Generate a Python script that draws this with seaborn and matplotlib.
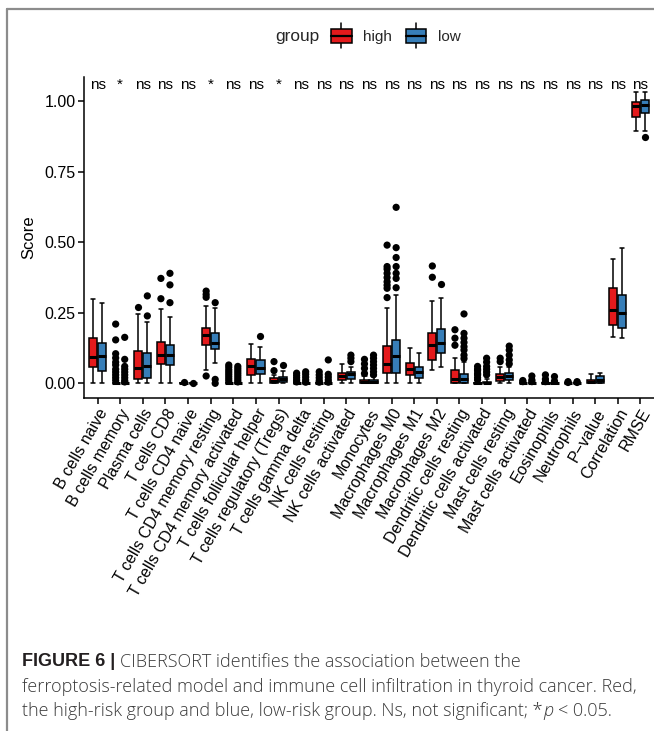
import numpy as np
import pandas as pd
import matplotlib
matplotlib.use("Agg")
import matplotlib.pyplot as plt
import seaborn as sns
from matplotlib.patches import Rectangle, Patch
from matplotlib.lines import Line2D
from matplotlib.legend_handler import HandlerBase

# ---------------- data ----------------
categories = [
    "B cells naive", "B cells memory", "Plasma cells", "T cells CD8",
    "T cells CD4 naive", "T cells CD4 memory resting",
    "T cells CD4 memory activated", "T cells follicular helper",
    "T cells regulatory (Tregs)", "T cells gamma delta", "NK cells resting",
    "NK cells activated", "Monocytes", "Macrophages M0", "Macrophages M1",
    "Macrophages M2", "Dendritic cells resting", "Dendritic cells activated",
    "Mast cells resting", "Mast cells activated", "Eosinophils",
    "Neutrophils", "P\u2212value", "Correlation", "RMSE",
]
groups = ["high", "low"]

# five-number summaries: lower whisker, Q1, median, Q3, upper whisker
high_box = [
    (0.0, 0.057, 0.095, 0.160, 0.298),
    (0.0, 0.0, 0.0, 0.002, 0.004),
    (0.0, 0.017, 0.053, 0.116, 0.246),
    (0.002, 0.069, 0.100, 0.148, 0.262),
    (0.0, 0.0, 0.0, 0.0, 0.001),
    (0.047, 0.136, 0.171, 0.195, 0.274),
    (0.0, 0.0, 0.0, 0.002, 0.004),
    (0.0, 0.028, 0.061, 0.087, 0.140),
    (0.0, 0.002, 0.010, 0.018, 0.030),
    (0.0, 0.0, 0.0, 0.0, 0.002),
    (0.0, 0.0, 0.0, 0.0, 0.002),
    (0.0, 0.012, 0.026, 0.038, 0.069),
    (0.0, 0.001, 0.006, 0.012, 0.025),
    (0.0, 0.038, 0.069, 0.132, 0.266),
    (0.0, 0.030, 0.050, 0.071, 0.124),
    (0.047, 0.083, 0.136, 0.180, 0.293),
    (0.0, 0.001, 0.014, 0.047, 0.090),
    (0.0, 0.0, 0.0, 0.001, 0.002),
    (0.0, 0.009, 0.024, 0.033, 0.059),
    (0.0, 0.0, 0.0, 0.0, 0.001),
    (0.0, 0.0, 0.0, 0.0, 0.001),
    (0.0, 0.0, 0.0, 0.0, 0.001),
    (0.0, 0.0, 0.005, 0.012, 0.033),
    (0.165, 0.207, 0.260, 0.337, 0.440),
    (0.896, 0.943, 0.983, 0.999, 1.034),
]
low_box = [
    (0.0, 0.045, 0.097, 0.142, 0.284),
    (0.0, 0.0, 0.0, 0.002, 0.004),
    (0.0, 0.018, 0.061, 0.106, 0.219),
    (0.0, 0.065, 0.100, 0.136, 0.234),
    (0.0, 0.0, 0.0, 0.0, 0.001),
    (0.073, 0.120, 0.144, 0.180, 0.266),
    (0.0, 0.0, 0.0, 0.002, 0.004),
    (0.0, 0.033, 0.053, 0.083, 0.130),
    (0.0, 0.004, 0.014, 0.022, 0.045),
    (0.0, 0.0, 0.0, 0.0, 0.002),
    (0.0, 0.0, 0.0, 0.0, 0.002),
    (0.0, 0.014, 0.033, 0.041, 0.059),
    (0.0, 0.001, 0.005, 0.012, 0.025),
    (0.0, 0.035, 0.097, 0.154, 0.313),
    (0.0, 0.018, 0.041, 0.059, 0.109),
    (0.057, 0.106, 0.142, 0.191, 0.301),
    (0.0, 0.0, 0.014, 0.033, 0.077),
    (0.0, 0.0, 0.001, 0.006, 0.014),
    (0.0, 0.012, 0.026, 0.035, 0.059),
    (0.0, 0.0, 0.0, 0.0, 0.001),
    (0.0, 0.0, 0.0, 0.0, 0.001),
    (0.0, 0.0, 0.0, 0.0, 0.001),
    (0.0, 0.0, 0.012, 0.026, 0.035),
    (0.162, 0.195, 0.248, 0.312, 0.481),
    (0.896, 0.957, 0.987, 1.005, 1.034),
]
high_outliers = [
    [],
    [0.21, 0.154, 0.105, 0.09, 0.075, 0.065, 0.05, 0.04, 0.03, 0.02, 0.01],
    [0.272],
    [0.372, 0.30],
    [0.003],
    [0.327, 0.315, 0.305, 0.026],
    [0.065, 0.057, 0.048, 0.04, 0.032, 0.024, 0.016, 0.008],
    [],
    [0.077, 0.045],
    [0.036, 0.028, 0.02, 0.012, 0.005],
    [0.041, 0.03, 0.02, 0.01, 0.004],
    [],
    [0.085, 0.069, 0.053, 0.035],
    [0.49, 0.414, 0.405, 0.39, 0.375, 0.36, 0.348, 0.337, 0.304],
    [],
    [0.416, 0.376],
    [0.19, 0.16, 0.135],
    [0.06, 0.05, 0.045, 0.035, 0.03, 0.02, 0.012],
    [0.089, 0.077],
    [0.01, 0.006],
    [0.03, 0.015, 0.006],
    [0.006, 0.003],
    [],
    [],
    [],
]
low_outliers = [
    [],
    [0.163, 0.085, 0.06, 0.05, 0.04, 0.03, 0.02, 0.01, 0.005],
    [0.31, 0.239],
    [0.39, 0.349, 0.286],
    [0.002],
    [0.286, 0.014, 0.0],
    [0.06, 0.052, 0.044, 0.036, 0.028, 0.02, 0.012, 0.005],
    [0.168],
    [0.065],
    [0.041, 0.032, 0.022, 0.012, 0.004],
    [0.083, 0.032, 0.022, 0.012, 0.004],
    [0.1, 0.089, 0.077],
    [0.1, 0.089, 0.077, 0.065, 0.053, 0.041, 0.03],
    [0.624, 0.481, 0.446, 0.414, 0.39, 0.372, 0.339],
    [],
    [0.352],
    [0.246, 0.177, 0.16, 0.145, 0.13, 0.118, 0.1, 0.088],
    [0.089, 0.075, 0.06, 0.05, 0.04, 0.03],
    [0.132, 0.118, 0.1, 0.083, 0.069],
    [0.026, 0.012, 0.006],
    [0.024, 0.008],
    [0.006, 0.003],
    [],
    [],
    [0.875],
]
sig_labels = ["ns", "*", "ns", "ns", "ns", "*", "ns", "ns", "*"] + ["ns"] * 16
y_ticks = [0.0, 0.25, 0.50, 0.75, 1.00]
palette = {"high": "#E41A1C", "low": "#377EB8"}

caption_bold = "FIGURE 6 |"
caption_line1 = "CIBERSORT identifies the association between the"
caption_line2 = "ferroptosis-related model and immune cell infiltration in thyroid cancer. Red,"
caption_line3a = "the high-risk group and blue, low-risk group. Ns, not significant; *"
caption_line3b = "p"
caption_line3c = "< 0.05."

# ---------------- tables ----------------
box_rows = []
for cat, hb, lb in zip(categories, high_box, low_box):
    for v in hb:
        box_rows.append((cat, "high", v))
    for v in lb:
        box_rows.append((cat, "low", v))
box_df = pd.DataFrame(box_rows, columns=["cell", "group", "score"])

out_rows = []
for cat, ho, lo in zip(categories, high_outliers, low_outliers):
    for v in ho:
        out_rows.append((cat, "high", v))
    for v in lo:
        out_rows.append((cat, "low", v))
out_df = pd.DataFrame(out_rows, columns=["cell", "group", "score"])

# ---------------- style ----------------
sns.set_style("ticks")
plt.rcParams["font.family"] = ["Liberation Sans", "DejaVu Sans"]
plt.rcParams["axes.linewidth"] = 1.1

W, H = 654, 731
fig = plt.figure(figsize=(W / 100, H / 100), dpi=100)
fig.patch.set_facecolor("white")
ax = fig.add_axes([84 / W, 1 - 398 / H, (W - 84) / W, (398 - 77) / H])

sns.boxplot(
    data=box_df, x="cell", y="score", hue="group", order=categories,
    hue_order=groups, palette=palette, saturation=1, whis=(0, 100),
    showfliers=False, width=0.8, gap=0.1, linecolor="black", linewidth=1.1,
    medianprops={"linewidth": 2.2, "color": "black"}, legend=False, ax=ax,
)
sns.stripplot(
    data=out_df, x="cell", y="score", hue="group", order=categories,
    hue_order=groups, palette={"high": "black", "low": "black"}, dodge=True,
    jitter=False, size=5.2, linewidth=0, legend=False, ax=ax,
)

ax.set_xlim(-0.6, len(categories) - 0.4)
ax.set_ylim(-0.052, 1.086)
ax.set_yticks(y_ticks)
ax.set_yticklabels([f"{t:.2f}" for t in y_ticks], fontsize=11.5, color="black")
ax.set_xticks(range(len(categories)))
ax.set_xticklabels(categories, rotation=60, ha="right", va="top",
                   rotation_mode="anchor", fontsize=11.5, color="black")
ax.tick_params(axis="both", length=4, width=1.1, color="black", pad=2)
ax.set_xlabel("")
ax.set_ylabel("Score", fontsize=12, color="black", labelpad=6)
for s in ["top", "right"]:
    ax.spines[s].set_visible(False)
for s in ["left", "bottom"]:
    ax.spines[s].set_color("black")

for i, s in enumerate(sig_labels):
    ax.text(i, 1.058, s, ha="center", va="center", fontsize=11, color="black")


# ---------------- legend ----------------
class BoxHandler(HandlerBase):
    def create_artists(self, legend, orig, xd, yd, w, h, fs, trans):
        cy = -yd + h / 2
        cx = -xd + w / 2
        bh = h * 1.25
        rect = Rectangle((-xd, cy - bh / 2), w, bh, facecolor=orig.get_facecolor(),
                         edgecolor="black", lw=1.1, transform=trans)
        med = Line2D([-xd, -xd + w], [cy, cy], color="black", lw=1.6, transform=trans)
        w1 = Line2D([cx, cx], [cy + bh / 2, cy + h * 1.1], color="black", lw=1.1, transform=trans)
        w2 = Line2D([cx, cx], [cy - bh / 2, cy - h * 1.1], color="black", lw=1.1, transform=trans)
        return [w1, w2, rect, med]


handles = [Patch(facecolor=palette[g]) for g in groups]
leg = ax.legend(handles, groups, handler_map={Patch: BoxHandler()}, ncol=2,
                loc="center left", bbox_to_anchor=(331 / W, 1 - 37 / H),
                bbox_transform=fig.transFigure, frameon=False, fontsize=11,
                handlelength=1.35, handleheight=0.75, handletextpad=0.75,
                columnspacing=0.9, borderpad=0, borderaxespad=0)
fig.text(275 / W, 1 - 37 / H, "group", fontsize=12.4, va="center", ha="left")

# ---------------- panel frame ----------------
fig.add_artist(Line2D([7.3 / W, 7.3 / W], [0, 1 - 8.7 / H], transform=fig.transFigure,
                      color="#8c8c8c", lw=1.6))
fig.add_artist(Line2D([7.3 / W, 1], [1 - 8.7 / H, 1 - 8.7 / H], transform=fig.transFigure,
                      color="#8c8c8c", lw=1.6))

# ---------------- caption ----------------
fig.canvas.draw()
r = fig.canvas.get_renderer()
cap_kw = dict(fontsize=13.0, color="#3a3a3a", va="center", ha="left",
              family=["Open Sans", "Liberation Sans", "DejaVu Sans"], fontweight="light")
space = 4.8


def put(x_px, y_px, txt, **kw):
    opts = dict(cap_kw)
    opts.update(kw)
    t = fig.text(x_px / W, 1 - y_px / H, txt, **opts)
    return t.get_window_extent(renderer=r).x1


x = put(22, 662, caption_bold, fontweight="bold", color="#231f20",
        family=["Liberation Sans", "DejaVu Sans"], fontsize=13)
put(x + space, 662, caption_line1)
put(22, 687, caption_line2)
x = put(22, 711, caption_line3a)
x = put(x + 0.5, 711, caption_line3b, fontstyle="italic")
put(x + space, 711, caption_line3c)

fig.savefig("out.png", dpi=100, facecolor="white")
